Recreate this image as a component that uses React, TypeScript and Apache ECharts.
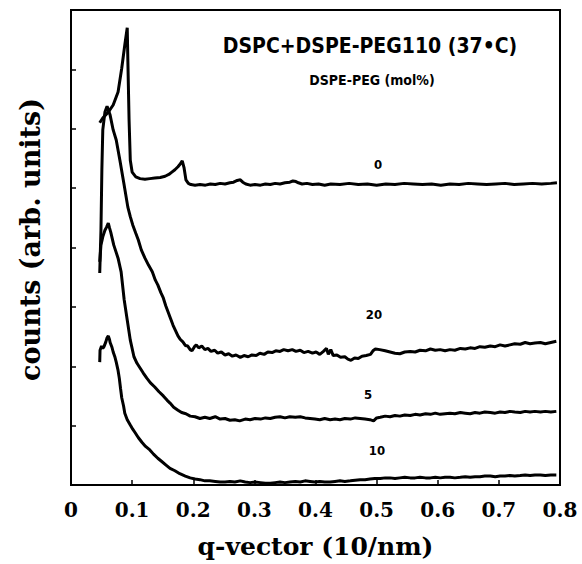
import React, { useEffect, useRef } from "react";
import * as echarts from "echarts";

const xTicks = [0, 0.1, 0.2, 0.3, 0.4, 0.5, 0.6, 0.7, 0.8];
const curveNames = ["0", "20", "5", "10"];

const curve0: [number, number][] = [
  [0.047, 6.1], [0.052, 6.18], [0.061, 6.28], [0.069, 6.4], [0.077, 6.62], [0.083, 7.02], [0.088, 7.41], [0.092, 7.7],
  [0.093, 7.16], [0.095, 6.15], [0.097, 5.47], [0.1, 5.27], [0.106, 5.19], [0.113, 5.16], [0.121, 5.15], [0.129, 5.16],
  [0.137, 5.17], [0.146, 5.18], [0.154, 5.2], [0.16, 5.23], [0.165, 5.27], [0.17, 5.31], [0.175, 5.36], [0.179, 5.41],
  [0.182, 5.46], [0.185, 5.34], [0.188, 5.14], [0.192, 5.08], [0.196, 5.06], [0.203, 5.05], [0.211, 5.06], [0.22, 5.05],
  [0.228, 5.07], [0.236, 5.06], [0.244, 5.08], [0.252, 5.07], [0.26, 5.09], [0.266, 5.1], [0.272, 5.13], [0.277, 5.14],
  [0.281, 5.1], [0.286, 5.07], [0.293, 5.05], [0.301, 5.06], [0.31, 5.05], [0.318, 5.07], [0.326, 5.06], [0.334, 5.08],
  [0.342, 5.07], [0.35, 5.09], [0.358, 5.1], [0.363, 5.12], [0.368, 5.11], [0.372, 5.09], [0.378, 5.07], [0.386, 5.08],
  [0.395, 5.06], [0.405, 5.07], [0.415, 5.05], [0.425, 5.07], [0.44, 5.06], [0.455, 5.08], [0.47, 5.06], [0.485, 5.07],
  [0.5, 5.05], [0.515, 5.07], [0.53, 5.06], [0.545, 5.08], [0.56, 5.07], [0.575, 5.06], [0.59, 5.07], [0.605, 5.05],
  [0.62, 5.07], [0.635, 5.06], [0.65, 5.08], [0.665, 5.07], [0.68, 5.06], [0.695, 5.07], [0.71, 5.08], [0.725, 5.06],
  [0.74, 5.07], [0.755, 5.08], [0.77, 5.07], [0.785, 5.08], [0.795, 5.09],
];

const curve20: [number, number][] = [
  [0.047, 3.57], [0.049, 4.29], [0.0505, 5.31], [0.052, 5.98], [0.0555, 6.28], [0.059, 6.38], [0.064, 6.23], [0.069, 5.98],
  [0.074, 5.81], [0.08, 5.47], [0.087, 5.05], [0.093, 4.68], [0.097, 4.52], [0.101, 4.38], [0.106, 4.24], [0.11, 4.13],
  [0.115, 3.96], [0.121, 3.82], [0.127, 3.7], [0.133, 3.59], [0.138, 3.45], [0.142, 3.37], [0.147, 3.24], [0.151, 3.15],
  [0.155, 3.02], [0.159, 2.91], [0.163, 2.8], [0.167, 2.69], [0.171, 2.6], [0.175, 2.51], [0.179, 2.45], [0.183, 2.41],
  [0.187, 2.35], [0.191, 2.34], [0.195, 2.28], [0.198, 2.26], [0.202, 2.33], [0.205, 2.36], [0.209, 2.31], [0.214, 2.34],
  [0.219, 2.28], [0.224, 2.3], [0.229, 2.25], [0.235, 2.27], [0.24, 2.22], [0.246, 2.24], [0.252, 2.19], [0.258, 2.21],
  [0.264, 2.17], [0.27, 2.19], [0.277, 2.15], [0.283, 2.18], [0.29, 2.16], [0.296, 2.19], [0.303, 2.18], [0.309, 2.22],
  [0.316, 2.2], [0.322, 2.24], [0.329, 2.23], [0.335, 2.26], [0.342, 2.25], [0.348, 2.28], [0.355, 2.26], [0.362, 2.28],
  [0.368, 2.25], [0.375, 2.27], [0.381, 2.23], [0.388, 2.25], [0.395, 2.22], [0.401, 2.24], [0.407, 2.2], [0.413, 2.25],
  [0.418, 2.3], [0.421, 2.2], [0.425, 2.28], [0.429, 2.18], [0.435, 2.19], [0.441, 2.15], [0.448, 2.16], [0.453, 2.12],
  [0.458, 2.1], [0.464, 2.14], [0.47, 2.13], [0.476, 2.17], [0.483, 2.18], [0.49, 2.2], [0.494, 2.26], [0.498, 2.29],
  [0.505, 2.28], [0.514, 2.26], [0.522, 2.24], [0.53, 2.22], [0.538, 2.21], [0.546, 2.24], [0.555, 2.25], [0.563, 2.24],
  [0.571, 2.27], [0.58, 2.26], [0.588, 2.29], [0.596, 2.27], [0.604, 2.28], [0.612, 2.26], [0.62, 2.28], [0.628, 2.27],
  [0.637, 2.3], [0.645, 2.29], [0.653, 2.31], [0.661, 2.3], [0.669, 2.33], [0.677, 2.32], [0.686, 2.34], [0.694, 2.33],
  [0.702, 2.36], [0.71, 2.34], [0.718, 2.36], [0.726, 2.38], [0.735, 2.37], [0.743, 2.4], [0.751, 2.38], [0.759, 2.39],
  [0.768, 2.4], [0.776, 2.38], [0.785, 2.4], [0.794, 2.42],
];

const curve5: [number, number][] = [
  [0.047, 3.76], [0.049, 4.04], [0.052, 4.18], [0.0555, 4.29], [0.058, 4.34], [0.061, 4.41], [0.063, 4.33], [0.065, 4.26],
  [0.07, 4.04], [0.077, 3.82], [0.082, 3.59], [0.087, 3.12], [0.092, 2.78], [0.097, 2.44], [0.103, 2.16], [0.108, 2.05],
  [0.113, 1.97], [0.118, 1.89], [0.124, 1.8], [0.13, 1.72], [0.137, 1.65], [0.144, 1.57], [0.151, 1.5], [0.157, 1.43],
  [0.162, 1.38], [0.168, 1.31], [0.175, 1.26], [0.181, 1.22], [0.188, 1.2], [0.195, 1.16], [0.203, 1.15], [0.211, 1.12],
  [0.219, 1.14], [0.227, 1.12], [0.236, 1.15], [0.244, 1.11], [0.252, 1.12], [0.26, 1.09], [0.268, 1.1], [0.276, 1.08],
  [0.285, 1.11], [0.293, 1.1], [0.301, 1.12], [0.31, 1.11], [0.318, 1.13], [0.326, 1.12], [0.334, 1.14], [0.342, 1.15],
  [0.35, 1.13], [0.358, 1.15], [0.367, 1.14], [0.375, 1.15], [0.383, 1.13], [0.391, 1.12], [0.399, 1.11], [0.407, 1.1],
  [0.415, 1.12], [0.424, 1.1], [0.432, 1.11], [0.44, 1.1], [0.448, 1.12], [0.457, 1.11], [0.465, 1.13], [0.473, 1.12],
  [0.481, 1.11], [0.489, 1.1], [0.495, 1.08], [0.5, 1.13], [0.506, 1.14], [0.514, 1.16], [0.522, 1.15], [0.53, 1.17],
  [0.538, 1.16], [0.546, 1.18], [0.555, 1.17], [0.563, 1.19], [0.571, 1.18], [0.58, 1.2], [0.588, 1.19], [0.596, 1.21],
  [0.604, 1.19], [0.612, 1.2], [0.62, 1.21], [0.628, 1.2], [0.637, 1.22], [0.645, 1.21], [0.653, 1.2], [0.661, 1.22],
  [0.669, 1.21], [0.677, 1.23], [0.686, 1.22], [0.694, 1.21], [0.702, 1.23], [0.71, 1.22], [0.718, 1.24], [0.726, 1.23],
  [0.735, 1.22], [0.743, 1.24], [0.751, 1.23], [0.759, 1.24], [0.768, 1.23], [0.776, 1.24], [0.785, 1.23], [0.794, 1.24],
];

const curve10: [number, number][] = [
  [0.047, 2.07], [0.0475, 2.27], [0.05, 2.34], [0.052, 2.3], [0.054, 2.33], [0.057, 2.41], [0.059, 2.48], [0.061, 2.51],
  [0.063, 2.45], [0.064, 2.4], [0.067, 2.32], [0.069, 2.24], [0.072, 2.15], [0.074, 2.07], [0.077, 1.93], [0.079, 1.8],
  [0.081, 1.63], [0.083, 1.47], [0.086, 1.33], [0.088, 1.21], [0.092, 1.1], [0.097, 1.01], [0.101, 0.94], [0.105, 0.88],
  [0.11, 0.8], [0.116, 0.72], [0.122, 0.65], [0.129, 0.59], [0.135, 0.52], [0.142, 0.45], [0.148, 0.4], [0.155, 0.34],
  [0.162, 0.28], [0.17, 0.24], [0.178, 0.19], [0.187, 0.15], [0.195, 0.12], [0.203, 0.1], [0.211, 0.09], [0.219, 0.07],
  [0.227, 0.07], [0.236, 0.06], [0.244, 0.05], [0.252, 0.05], [0.26, 0.06], [0.268, 0.05], [0.277, 0.07], [0.285, 0.05],
  [0.293, 0.04], [0.301, 0.05], [0.31, 0.04], [0.318, 0.03], [0.326, 0.03], [0.334, 0.04], [0.342, 0.05], [0.35, 0.04],
  [0.358, 0.05], [0.367, 0.06], [0.375, 0.05], [0.383, 0.07], [0.391, 0.06], [0.399, 0.05], [0.407, 0.06], [0.415, 0.05],
  [0.424, 0.05], [0.432, 0.06], [0.44, 0.07], [0.448, 0.06], [0.457, 0.07], [0.465, 0.08], [0.473, 0.09], [0.481, 0.09],
  [0.489, 0.1], [0.497, 0.11], [0.506, 0.11], [0.514, 0.12], [0.522, 0.12], [0.53, 0.11], [0.538, 0.12], [0.546, 0.13],
  [0.555, 0.12], [0.563, 0.12], [0.571, 0.13], [0.58, 0.12], [0.588, 0.12], [0.596, 0.13], [0.604, 0.12], [0.612, 0.13],
  [0.62, 0.13], [0.628, 0.12], [0.637, 0.13], [0.645, 0.14], [0.653, 0.13], [0.661, 0.14], [0.669, 0.14], [0.677, 0.15],
  [0.686, 0.15], [0.694, 0.14], [0.702, 0.15], [0.71, 0.15], [0.718, 0.16], [0.726, 0.15], [0.735, 0.16], [0.743, 0.17],
  [0.751, 0.16], [0.759, 0.17], [0.768, 0.17], [0.776, 0.16], [0.785, 0.17], [0.794, 0.17],
];

const curves = [curve0, curve20, curve5, curve10];

const serifBold = "DejaVu Serif";
const sansCond = "DejaVu Sans Condensed";

export default function App() {
  const ref = useRef<HTMLDivElement>(null);
  useEffect(() => {
    if (!ref.current) return;
    const chart = echarts.init(ref.current, null, { renderer: "svg" });
    const labelPos: [number, number][] = [
      [378, 164],
      [374, 314],
      [368, 394],
      [377, 450],
    ];
    chart.setOption({
      animation: false,
      backgroundColor: "#fff",
      grid: {
        left: 71,
        right: 22,
        top: 10,
        bottom: 79,
        show: true,
        borderColor: "#000",
        borderWidth: 2,
        backgroundColor: "transparent",
      },
      xAxis: {
        type: "value",
        min: 0,
        max: 0.8,
        interval: 0.1,
        name: "q-vector (10/nm)",
        nameLocation: "middle",
        nameGap: 49,
        nameTextStyle: { fontFamily: serifBold, fontWeight: "bold", fontSize: 25, color: "#000" },
        axisLine: { lineStyle: { color: "#000", width: 2 } },
        axisTick: { inside: true, length: 5, lineStyle: { color: "#000", width: 1.5 } },
        axisLabel: {
          margin: 15,
          fontFamily: serifBold,
          fontWeight: "bold",
          fontSize: 20,
          color: "#000",
          formatter: (v: number) => {
            const t = xTicks.find((k) => Math.abs(k - v) < 1e-6);
            const val = t === undefined ? v : t;
            return val === 0 ? "0" : val.toFixed(1);
          },
        },
        splitLine: { show: false },
      },
      yAxis: {
        type: "value",
        min: 0,
        max: 8,
        interval: 1,
        name: "counts (arb. units)",
        nameLocation: "middle",
        nameGap: 27,
        nameTextStyle: {
          fontFamily: serifBold,
          fontWeight: "bold",
          fontSize: 27,
          color: "#000",
          padding: [0, 0, 0, 16],
        },
        axisLine: { show: true, lineStyle: { color: "#000", width: 2 } },
        axisTick: { inside: true, length: 5, lineStyle: { color: "#000", width: 1.5 } },
        axisLabel: { show: false },
        splitLine: { show: false },
      },
      graphic: [
        {
          type: "text",
          x: 370,
          y: 46,
          style: {
            text: "DSPC+DSPE-PEG110 (37•C)",
            fontFamily: sansCond,
            fontWeight: "bold",
            fontSize: 21,
            fill: "#000",
            align: "center",
            verticalAlign: "middle",
          },
        },
        {
          type: "text",
          x: 372,
          y: 80,
          style: {
            text: "DSPE-PEG (mol%)",
            fontFamily: sansCond,
            fontWeight: "bold",
            fontSize: 14,
            fill: "#000",
            align: "center",
            verticalAlign: "middle",
          },
        },
        ...curveNames.map((n, i) => ({
          type: "text",
          x: labelPos[i][0],
          y: labelPos[i][1],
          style: {
            text: n,
            fontFamily: sansCond,
            fontWeight: "bold",
            fontSize: 13,
            fill: "#000",
            align: "center",
            verticalAlign: "middle",
          },
        })),
      ],
      series: curves.map((c, i) => ({
        type: "line",
        name: curveNames[i],
        data: c,
        showSymbol: false,
        symbol: "none",
        lineStyle: { color: "#000", width: 3 },
        z: 3,
      })),
    });
    return () => chart.dispose();
  }, []);
  return (
    <div
      ref={ref}
      style={{ position: "fixed", left: 0, top: 0, width: 582, height: 564, background: "#fff" }}
    />
  );
}
